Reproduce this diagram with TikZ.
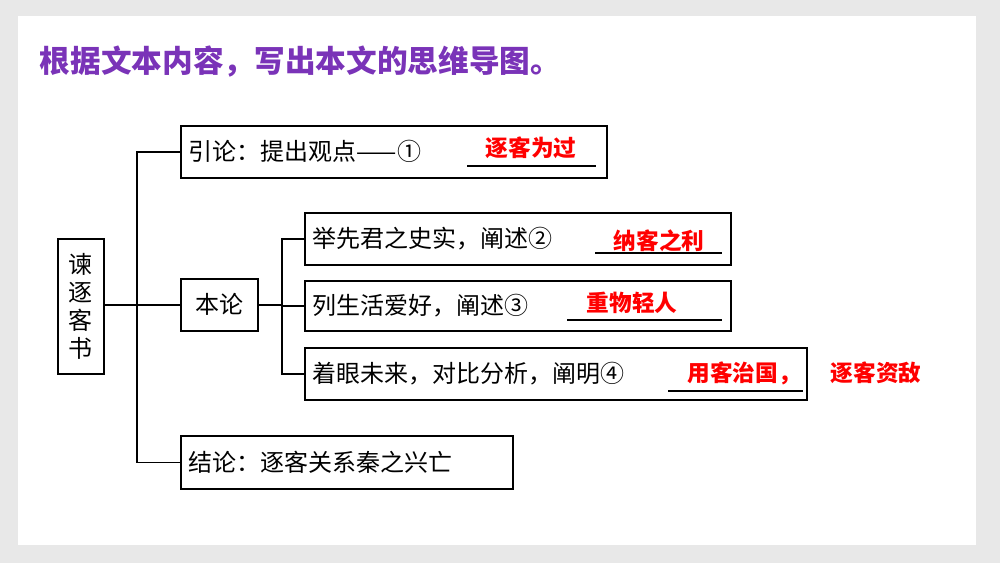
\documentclass[tikz,border=0pt]{standalone}
\usepackage{fontspec}
\newfontfamily\cjk{Noto Sans CJK SC}
\begin{document}
\begin{tikzpicture}[x=0.75pt,y=-0.75pt,
  bx/.style={draw,line width=1.2pt,inner sep=0pt,anchor=north west,align=left,font=\cjk\fontsize{18}{21}\selectfont},
  ans/.style={text=red,font=\cjk\bfseries\fontsize{17}{20}\selectfont},
  ln/.style={line width=1.2pt}]
\fill[gray!18] (0,0) rectangle (1000,563);
\fill[white] (18,16) rectangle (976,545);
\node[anchor=west,text=violet!70!blue!80!white,font=\cjk\bfseries\fontsize{23}{26}\selectfont] (title) at (35,62) {根据文本内容，写出本文的思维导图。};
\node[bx,minimum width=46*0.75pt,minimum height=135*0.75pt,align=center] (root) at (57,238) {谏\\逐\\客\\书};
\node[bx,text width=410*0.75pt,minimum height=52*0.75pt,inner xsep=6pt] (yin) at (180,125) {引论：提出观点——①};
\node[bx,minimum width=77*0.75pt,minimum height=52*0.75pt,align=center] (ben) at (180,278) {本论};
\node[bx,text width=316*0.75pt,minimum height=53*0.75pt,inner xsep=6pt] (jie) at (180,435) {结论：逐客关系秦之兴亡};
\node[bx,text width=410*0.75pt,minimum height=52*0.75pt,inner xsep=6pt] (s1) at (304,212) {举先君之史实，阐述②};
\node[bx,text width=410*0.75pt,minimum height=50*0.75pt,inner xsep=6pt] (s2) at (304,280) {列生活爱好，阐述③};
\node[bx,text width=486*0.75pt,minimum height=52*0.75pt,inner xsep=6pt] (s3) at (304,347) {着眼未来，对比分析，阐明④};
\coordinate (ja) at (137,151);
\coordinate (ka) at (282,238);
\coordinate (kc) at (282,304);
\draw[ln] (root.east |- ben.west) -- (ben.west);
\draw[ln] (yin.west) -- (yin.west -| ja) -- (jie.west -| ja) -- (jie.west);
\draw[ln] (ben.east) -- (ben.east -| kc);
\draw[ln] (s1.west) -- (s1.west -| ka) -- (s3.west -| ka) -- (s3.west);
\draw[ln] (kc |- s2.west) -- (s2.west);
\draw[line width=0.8pt] (467,166) -- (596,166) (595,253) -- (722,253) (567,320) -- (722,320) (668,391) -- (803,391);
\node[ans] (a1) at (531,148) {逐客为过};
\node[ans] (a2) at (659,241) {纳客之利};
\node[ans] (a3) at (632,303) {重物轻人};
\node[ans] (a4) at (744,373) {用客治国，};
\node[ans] (a5) at (876,373) {逐客资敌};
\end{tikzpicture}
\end{document}
